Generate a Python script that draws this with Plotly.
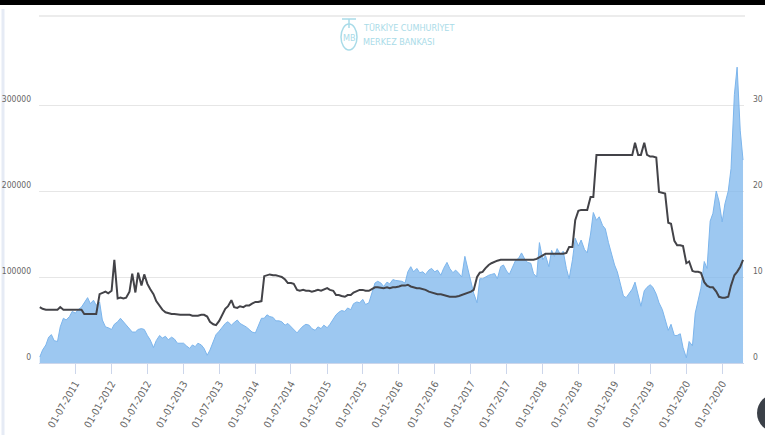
import pandas as pd
import plotly.graph_objects as go

# semi-monthly observations, 2011-01-01 .. 2020-10-15
dates = pd.date_range(start="2011-01-01", periods=236, freq="SMS")

area_values = [
    7, 15, 21, 30, 33, 26, 25, 42, 52, 50, 54, 60, 58, 62, 65, 70, 76, 69, 73, 67,
    71, 50, 42, 41, 39, 45, 48, 52, 48, 45, 40, 36, 36, 39, 40, 39, 32, 27, 18, 26,
    32, 29, 31, 27, 30, 28, 23, 23, 23, 20, 17, 21, 19, 23, 21, 17, 9, 15, 26, 33,
    37, 41, 46, 48, 44, 47, 50, 46, 44, 42, 39, 36, 35, 43, 52, 52, 56, 54, 53, 49,
    49, 48, 44, 46, 42, 38, 35, 39, 43, 45, 44, 40, 38, 42, 40, 44, 41, 45, 51, 56,
    59, 61, 60, 64, 62, 69, 71, 70, 74, 68, 70, 80, 93, 95, 93, 89, 94, 92, 97, 96,
    95, 95, 93, 106, 112, 106, 110, 105, 106, 103, 108, 110, 106, 108, 102, 110, 117, 110, 105, 108,
    104, 100, 124, 110, 93, 81, 70, 98, 98, 100, 102, 103, 104, 98, 112, 114, 107, 103, 112, 119,
    122, 128, 121, 117, 116, 104, 100, 140, 120, 125, 112, 131, 124, 133, 126, 130, 110, 98, 120, 145,
    136, 143, 132, 128, 150, 175, 166, 170, 160, 156, 140, 128, 114, 106, 92, 78, 76, 80, 86, 94,
    80, 66, 84, 88, 91, 88, 80, 70, 62, 50, 38, 45, 32, 32, 34, 18, 6, 25, 20, 58,
    72, 87, 118, 110, 165, 174, 200, 188, 164, 185, 200, 226, 312, 344, 270, 236,
]
area_values = [v * 1000 for v in area_values]

line_values = [
    6.5, 6.3, 6.2, 6.2, 6.2, 6.2, 6.2, 6.5, 6.2, 6.2, 6.2, 6.2, 6.2, 6.2, 6.2, 5.7, 5.7, 5.7, 5.7, 5.7,
    8.0, 8.1, 8.3, 8.1, 8.4, 12.0, 7.5, 7.6, 7.5, 7.6, 8.3, 10.4, 8.2, 10.5, 9.0, 10.3, 9.2, 8.6, 8.0, 7.2,
    6.6, 6.2, 5.9, 5.8, 5.7, 5.7, 5.6, 5.6, 5.6, 5.6, 5.6, 5.5, 5.5, 5.5, 5.6, 5.6, 5.4, 4.8, 4.5, 4.4,
    4.9, 5.5, 6.3, 6.6, 7.3, 6.5, 6.4, 6.6, 6.5, 6.7, 6.7, 6.9, 7.1, 7.1, 7.2, 10.1, 10.2, 10.3, 10.2, 10.2,
    10.1, 10.0, 9.7, 9.3, 9.3, 9.2, 8.5, 8.4, 8.5, 8.4, 8.4, 8.3, 8.4, 8.5, 8.4, 8.5, 8.7, 8.5, 8.4, 7.9,
    7.9, 7.8, 7.7, 7.9, 7.9, 8.2, 8.4, 8.5, 8.5, 8.4, 8.4, 8.6, 8.8, 8.8, 8.7, 8.7, 8.8, 8.7, 8.8, 8.8,
    8.9, 9.0, 9.0, 9.1, 8.9, 8.8, 8.7, 8.7, 8.6, 8.5, 8.3, 8.2, 8.1, 8.0, 8.0, 7.9, 7.8, 7.7, 7.7, 7.7,
    7.8, 7.9, 8.1, 8.2, 8.3, 8.5, 10.0, 10.5, 10.6, 11.0, 11.4, 11.6, 11.8, 11.9, 12.0, 12.0, 12.0, 12.0, 12.0, 12.0,
    12.0, 12.0, 12.0, 12.0, 12.0, 12.0, 12.1, 12.3, 12.6, 12.7, 12.7, 12.7, 12.7, 12.7, 12.7, 12.7, 12.8, 13.5, 13.5, 16.6,
    17.7, 17.8, 17.8, 17.8, 19.3, 19.3, 24.2, 24.2, 24.2, 24.2, 24.2, 24.2, 24.2, 24.2, 24.2, 24.2, 24.2, 24.2, 24.2, 25.6,
    24.2, 24.2, 25.6, 24.2, 24.0, 24.0, 23.9, 19.9, 19.8, 19.7, 16.3, 16.2, 14.2, 13.7, 13.7, 13.6, 11.6, 11.8, 10.7, 10.6,
    10.6, 10.5, 9.4, 9.0, 8.8, 8.8, 8.3, 7.7, 7.6, 7.6, 7.7, 9.0, 10.2, 10.6, 11.2, 12.0,
]

tick_dates = ["2011-07-01", "2012-01-01", "2012-07-01", "2013-01-01", "2013-07-01",
              "2014-01-01", "2014-07-01", "2015-01-01", "2015-07-01", "2016-01-01",
              "2016-07-01", "2017-01-01", "2017-07-01", "2018-01-01", "2018-07-01",
              "2019-01-01", "2019-07-01", "2020-01-01", "2020-07-01"]
tick_labels = ["01-07-2011", "01-01-2012", "01-07-2012", "01-01-2013", "01-07-2013",
               "01-01-2014", "01-07-2014", "01-01-2015", "01-07-2015", "01-01-2016",
               "01-07-2016", "01-01-2017", "01-07-2017", "01-01-2018", "01-07-2018",
               "01-01-2019", "01-07-2019", "01-01-2020", "01-07-2020"]
left_ticks = [0, 100000, 200000, 300000]
right_ticks = [0, 10, 20, 30]

NARROW = "Liberation Sans Narrow, DejaVu Sans Condensed, Arial Narrow, Liberation Sans, sans-serif"
X_FONT = dict(family=NARROW, size=10, color="#666666")
Y_FONT = dict(family=NARROW, size=8.5, color="#666666")

fig = go.Figure()
fig.add_trace(go.Scatter(
    x=dates, y=area_values, mode="lines", fill="tozeroy",
    line=dict(color="#7cb5ec", width=1), fillcolor="rgba(124,181,236,0.75)",
    hoverinfo="skip", showlegend=False,
))
fig.add_trace(go.Scatter(
    x=dates, y=line_values, mode="lines", yaxis="y2",
    line=dict(color="#434348", width=2),
    hoverinfo="skip", showlegend=False,
))

L, R, T, B = 39, 21, 62, 72
W, H = 765, 435
pw, ph = W - L - R, H - T - B


def px(xp):
    return (xp - L) / pw


def py(yp):
    return (H - B - yp) / ph


logo_font = dict(family=NARROW, size=9, color="#a9dbe8")

fig.update_layout(
    width=W, height=H,
    margin=dict(l=L, r=R, t=T, b=B, autoexpand=False),
    paper_bgcolor="white", plot_bgcolor="white",
    xaxis=dict(
        type="date", range=["2010-12-28", "2020-10-20"], automargin=False,
        tickvals=tick_dates, ticktext=tick_labels, tickangle=-60,
        showgrid=False, showline=True, linecolor="#ccd6eb", linewidth=1,
        ticks="outside", ticklen=10, tickcolor="#ccd6eb", tickwidth=1,
        tickfont=X_FONT, zeroline=False,
    ),
    yaxis=dict(
        range=[0, 350000], tickvals=left_ticks, tickformat="d", automargin=False,
        showgrid=True, gridcolor="#e6e6e6", gridwidth=1, zeroline=False,
        showline=False, tickfont=Y_FONT, ticklabelshift=-6, ticklabelstandoff=7,
    ),
    yaxis2=dict(
        range=[0, 35], tickvals=right_ticks, overlaying="y", side="right", automargin=False,
        showgrid=False, zeroline=False, showline=False, tickfont=Y_FONT,
        ticklabelshift=-6, ticklabelstandoff=8,
    ),
    shapes=[
        dict(type="rect", xref="paper", yref="paper", x0=px(-5), x1=px(W + 5), y0=py(5), y1=py(-5),
             fillcolor="black", line=dict(width=0), layer="above"),
        dict(type="line", xref="paper", yref="paper", x0=px(39), x1=px(745), y0=py(16), y1=py(16),
             line=dict(color="#ececec", width=2)),
        dict(type="rect", xref="paper", yref="paper", x0=px(1.5), x1=px(4.5), y0=py(H + 5), y1=py(9),
             fillcolor="#e6ebf5", line=dict(width=0), layer="below"),
        dict(type="circle", xref="paper", yref="paper", x0=px(341), x1=px(357), y0=py(50), y1=py(24),
             line=dict(color="#a9dbe8", width=1.5)),
        dict(type="line", xref="paper", yref="paper", x0=px(342), x1=px(356), y0=py(19), y1=py(19),
             line=dict(color="#a9dbe8", width=1.5)),
        dict(type="line", xref="paper", yref="paper", x0=px(349), x1=px(349), y0=py(19), y1=py(28),
             line=dict(color="#a9dbe8", width=1.5)),
        dict(type="circle", xref="paper", yref="paper", x0=px(757), x1=px(795), y0=py(432), y1=py(394),
             fillcolor="#3b4048", line=dict(width=0)),
    ],
    annotations=[
        dict(text="MB", xref="paper", yref="paper", x=px(349), y=py(38), showarrow=False,
             font=logo_font, xanchor="center", yanchor="middle"),
        dict(text="TÜRKİYE CUMHURİYET", xref="paper", yref="paper", x=px(361), y=py(28), showarrow=False,
             font=logo_font, xanchor="left", yanchor="middle"),
        dict(text="MERKEZ BANKASI", xref="paper", yref="paper", x=px(361), y=py(42), showarrow=False,
             font=logo_font, xanchor="left", yanchor="middle"),
    ],
)

fig.write_html(
    "out.html",
    config={"displayModeBar": False},
    post_script="document.body.style.margin='0';document.body.style.overflow='hidden';",
)
